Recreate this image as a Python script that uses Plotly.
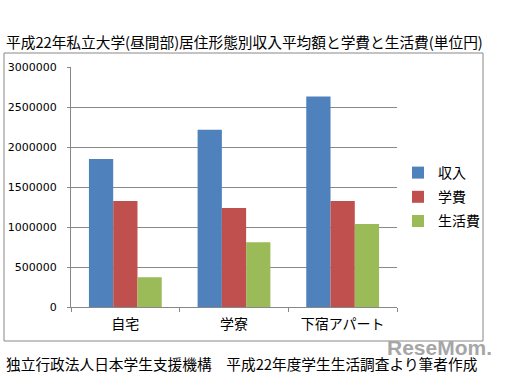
import plotly.graph_objects as go

categories = ["自宅", "学寮", "下宿アパート"]
series_names = ["収入", "学費", "生活費"]
income = [1850000, 2215000, 2630000]
tuition = [1325000, 1237000, 1325000]
living = [372000, 810000, 1036000]
colors = ["#4F81BD", "#C0504D", "#9BBB59"]
y_ticks = [0, 500000, 1000000, 1500000, 2000000, 2500000, 3000000]

W, H = 506, 373
L, R, T, B = 71, 109, 67, 66
pw, ph = W - L - R, H - T - B

def px(x):
    return (x - L) / pw

def py(y):
    return (H - B - y) / ph

fig = go.Figure()
for name, vals, col in zip(series_names, [income, tuition, living], colors):
    fig.add_trace(go.Bar(x=categories, y=vals, name=name, marker=dict(color=col, line=dict(width=0)),
                         legendgroup=name))

cjk = "Noto Sans CJK JP"
fig.update_layout(
    width=W, height=H,
    margin=dict(l=L, r=R, t=T, b=B, autoexpand=False),
    paper_bgcolor="white", plot_bgcolor="white",
    barmode="group", bargap=0.33, bargroupgap=0,
    showlegend=True,
    legend=dict(x=px(398), y=py(157), xanchor="left", yanchor="top",
                font=dict(family=cjk, size=14, color="#000"),
                traceorder="grouped", tracegroupgap=3,
                itemwidth=30, bgcolor="rgba(0,0,0,0)"),
    xaxis=dict(showline=True, linecolor="#888", linewidth=1, ticks="outside", tickson="boundaries",
               ticklen=4, tickcolor="#888", tickfont=dict(family=cjk, size=14, color="#000"),
               ticklabelstandoff=4, showgrid=False, automargin=False),
    yaxis=dict(range=[0, 3000000], tickvals=y_ticks, ticktext=[str(v) for v in y_ticks],
               showline=True, linecolor="#888", linewidth=1, ticks="outside", ticklen=3,
               tickcolor="#888", gridcolor="#888", gridwidth=1, zeroline=False,
               ticklabelstandoff=8, automargin=False,
               tickfont=dict(family="DejaVu Sans", size=11, color="#000")),
    font=dict(family=cjk),
)

fig.add_shape(type="rect", xref="paper", yref="paper",
              x0=px(4), x1=px(483), y0=py(341), y1=py(53),
              line=dict(color="#888", width=1), fillcolor="rgba(0,0,0,0)", layer="below")

fig.add_annotation(text="平成22年私立大学(昼間部)居住形態別収入平均額と学費と生活費(単位円)",
                   xref="paper", yref="paper", x=px(4), y=py(42), xanchor="left", yanchor="middle",
                   showarrow=False, font=dict(family=cjk, size=14.7, color="#000"))
fig.add_annotation(text="ReseMom.", xref="paper", yref="paper", x=px(494), y=py(347),
                   xanchor="right", yanchor="middle", showarrow=False,
                   font=dict(family="Liberation Sans", size=21, color="#a6a6a6", weight="bold"))
fig.add_annotation(text="独立行政法人日本学生支援機構　平成22年度学生生活調査より筆者作成",
                   xref="paper", yref="paper", x=px(4), y=py(363), xanchor="left", yanchor="middle",
                   showarrow=False, font=dict(family=cjk, size=14.7, color="#000"))

fig.write_html("out.html", post_script="document.body.style.margin='0';",
               config={"displayModeBar": False})
